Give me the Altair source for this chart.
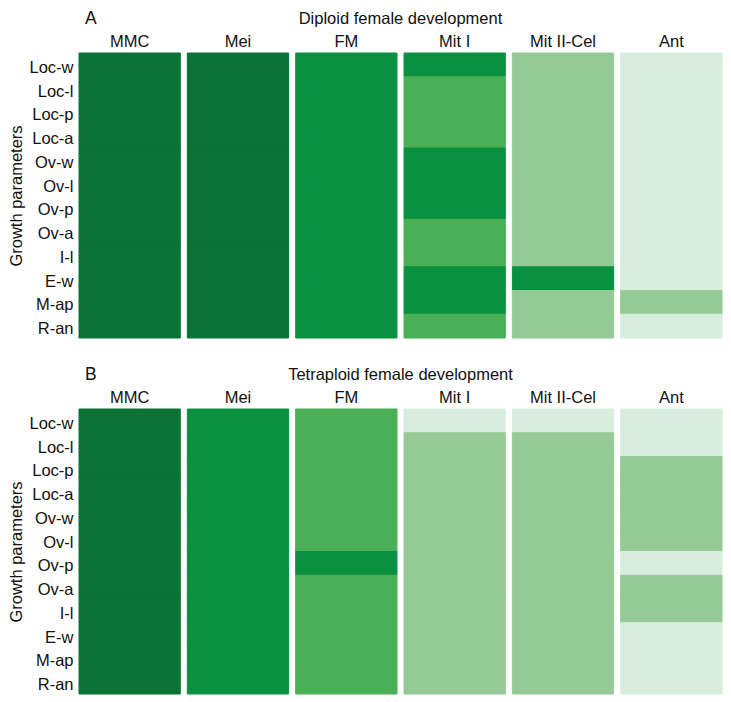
import altair as alt
import pandas as pd

params = ["Loc-w", "Loc-l", "Loc-p", "Loc-a", "Ov-w", "Ov-l", "Ov-p", "Ov-a", "I-l", "E-w", "M-ap", "R-an"]
stages = ["MMC", "Mei", "FM", "Mit I", "Mit II-Cel", "Ant"]

# intensity levels 1 (lightest) .. 5 (darkest), one list per stage, in params order
diploid = {
    "MMC":        [5, 5, 5, 5, 5, 5, 5, 5, 5, 5, 5, 5],
    "Mei":        [5, 5, 5, 5, 5, 5, 5, 5, 5, 5, 5, 5],
    "FM":         [4, 4, 4, 4, 4, 4, 4, 4, 4, 4, 4, 4],
    "Mit I":      [4, 3, 3, 3, 4, 4, 4, 3, 3, 4, 4, 3],
    "Mit II-Cel": [2, 2, 2, 2, 2, 2, 2, 2, 2, 4, 2, 2],
    "Ant":        [1, 1, 1, 1, 1, 1, 1, 1, 1, 1, 2, 1],
}
tetraploid = {
    "MMC":        [5, 5, 5, 5, 5, 5, 5, 5, 5, 5, 5, 5],
    "Mei":        [4, 4, 4, 4, 4, 4, 4, 4, 4, 4, 4, 4],
    "FM":         [3, 3, 3, 3, 3, 3, 4, 3, 3, 3, 3, 3],
    "Mit I":      [1, 2, 2, 2, 2, 2, 2, 2, 2, 2, 2, 2],
    "Mit II-Cel": [1, 2, 2, 2, 2, 2, 2, 2, 2, 2, 2, 2],
    "Ant":        [1, 1, 2, 2, 2, 2, 1, 2, 2, 1, 1, 1],
}

levels = [1, 2, 3, 4, 5]
level_colors = ["#D9EDDF", "#96CA95", "#4AAF57", "#0A9140", "#0B7336"]

FONT = "Liberation Sans"
FS = 16.5
W, H = 643, 285


def to_df(d):
    rows = []
    for s in stages:
        for p, v in zip(params, d[s]):
            rows.append({"stage": s, "param": p, "level": v})
    return pd.DataFrame(rows)


def panel(d, letter, title):
    cscale = alt.Scale(domain=levels, range=level_colors)
    base = alt.Chart(to_df(d)).mark_rect(strokeWidth=1).encode(
        x=alt.X("stage:N", sort=stages,
                scale=alt.Scale(paddingInner=0.065, paddingOuter=0),
                axis=alt.Axis(orient="top", title=None, labelAngle=0, ticks=False,
                              domain=False, grid=False, labelFontSize=FS, labelPadding=4,
                              labelColor="#111", labelFont=FONT)),
        y=alt.Y("param:N", sort=params,
                scale=alt.Scale(paddingInner=0, paddingOuter=0),
                axis=alt.Axis(title="Growth parameters", ticks=False, domain=False, grid=False,
                              labelFontSize=FS, labelPadding=6, labelOffset=3,
                              labelColor="#111",
                              labelFont=FONT, titleFont=FONT, titleFontSize=FS,
                              titleFontWeight="normal", titleColor="#111",
                              titlePadding=4)),
        color=alt.Color("level:O", scale=cscale, legend=None),
        stroke=alt.Stroke("level:O", scale=cscale, legend=None),
    )
    lab = alt.Chart(pd.DataFrame({"t": [letter]})).mark_text(
        align="left", baseline="alphabetic", fontSize=17.5, font=FONT, color="#111"
    ).encode(text="t:N", x=alt.value(6), y=alt.value(-29))
    ttl = alt.Chart(pd.DataFrame({"t": [title]})).mark_text(
        align="center", baseline="alphabetic", fontSize=FS, font=FONT, color="#111"
    ).encode(text="t:N", x=alt.value(W / 2), y=alt.value(-29))
    return alt.layer(base, lab, ttl).properties(width=W, height=H)


chart = alt.vconcat(
    panel(diploid, "A", "Diploid female development"),
    panel(tetraploid, "B", "Tetraploid female development"),
    spacing=27,
).properties(padding={"left": 0, "top": 2, "right": 0, "bottom": 0}).configure_view(stroke=None)

chart.save("out.html", embed_options={"renderer": "svg", "actions": False})
